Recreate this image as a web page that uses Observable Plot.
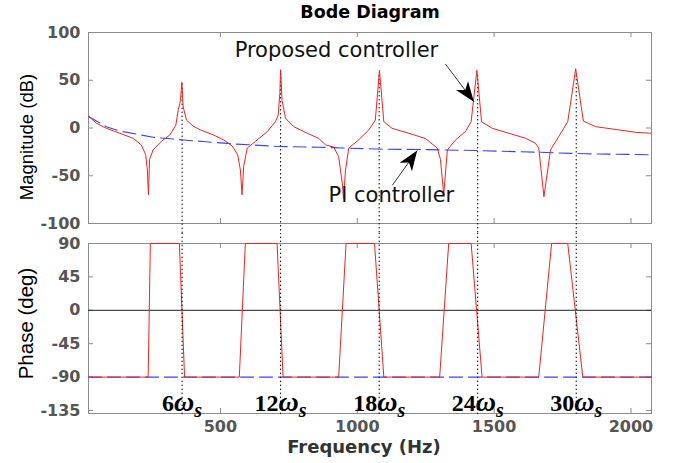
<!DOCTYPE html>
<html><head><meta charset="utf-8">
<script src="https://cdn.jsdelivr.net/npm/d3@7"></script>
<script src="https://cdn.jsdelivr.net/npm/@observablehq/plot@0.6"></script>
<style>
html,body{margin:0;padding:0;background:#fff;}
#chart{position:relative;width:674px;height:463px;overflow:hidden;background:#fff;}
#chart svg{position:absolute;left:0;display:block;}
</style></head><body><div id="chart"></div>
<script>
// ---- data ----
const freqDomain = [18, 2075];
const freqTicks = [500, 1000, 1500, 2000];
const magDomain = [-100, 100];
const magTicks = [-100, -50, 0, 50, 100];
const phaseDomain = [-139, 90];
const phaseTicks = [-135, -90, -45, 0, 45, 90];

// Proposed controller magnitude (dB)
const propMagFreq = [20, 47, 83, 132, 181, 211, 227, 233, 237, 241, 254, 284, 315, 337, 346, 354, 359, 364, 376, 400,
  427, 475, 512, 543, 563, 573, 579, 585, 598, 628, 671, 701, 711, 717, 720, 725, 738, 768, 817, 859,
  884, 914, 932, 945, 950, 957, 969, 1005, 1042, 1066, 1081, 1097, 1127, 1188, 1249,
  1292, 1304, 1316, 1329, 1359, 1395, 1416, 1426, 1437, 1454, 1493, 1554, 1615, 1651,
  1663, 1682, 1706, 1736, 1769, 1798, 1826, 1871, 1956, 2017, 2072];
const propMagDb = [12, 5, -0.3, -5.5, -10.8, -17.7, -28, -44, -70, -33, -23, -14, -7.3, 3, 19, 29, 48, 22, 8.3, 2,
  -2, -7.3, -12.5, -18.8, -28, -44, -70, -40, -21, -14, -3.8, 6.6, 13.5, 36, 61, 29, 10, 1.4, -5.5, -10.8,
  -17.7, -20, -30, -57.6, -74, -44, -21, -12.5, -2, 8.3, 60.4, 6.6, -0.3, -5.5, -11,
  -21, -33, -70, -23, -12.5, -3.8, 6.6, 32.6, 60.4, 6.6, -0.3, -5.5, -10.8, -16,
  -21, -72, -23, -9, 6.6, 62, 7.3, 1.4, -2, -4.5, -5.5];

// PI controller magnitude (dB)
const piMagFreq = [18, 83, 132, 254, 364, 437, 549, 719, 859, 1091, 1249, 1432, 1651, 1834, 2072];
const piMagDb = [12, 1.4, -3.1, -9.7, -12.5, -14.2, -16.7, -19.4, -20.1, -22.2, -22.6, -23.6, -25.3, -27, -28];

// Proposed controller phase (deg)
const propPhaseFreq = [18, 236, 244, 350, 369, 569, 591, 707, 729, 932, 959, 1063, 1097,
  1301, 1334, 1416, 1456, 1663, 1710, 1769, 1824, 2075];
const propPhaseDeg = [-90, -90, 90, 90, -90, -90, 90, 90, -90, -90, 90, 90, -90,
  -90, 90, 90, -90, -90, 90, 90, -90, -90];

// PI controller phase (deg)
const piPhaseFreq = [18, 2075];
const piPhaseDeg = [-90, -90];

// harmonic markers
const harmonicFreq = [360, 720, 1080, 1440, 1800];
const harmonicPeakDb = [46, 57, 55, 55, 55];
const harmonicLabels = ["6ωs", "12ωs", "18ωs", "24ωs", "30ωs"];

// annotations
const annText = ["Proposed controller", "PI controller"];
const annTextFreq = [552, 895];
const annTextDb = [74, -78];
const annFromFreq = [1322, 1128];
const annFromDb = [67, -60];
const annTipFreq = [1426, 1219];
const annTipDb = [27.5, -23.6];
const annHeadAngle = [143.6, 34.8];

// ---- records ----
const propMag = propMagFreq.map((f, i) => ({f, v: propMagDb[i]}));
const piMag = piMagFreq.map((f, i) => ({f, v: piMagDb[i]}));
const propPhase = propPhaseFreq.map((f, i) => ({f, v: propPhaseDeg[i]}));
const piPhase = piPhaseFreq.map((f, i) => ({f, v: piPhaseDeg[i]}));
const harmonics = harmonicFreq.map((f, i) => ({f, peak: harmonicPeakDb[i], label: harmonicLabels[i]}));
const anns = annText.map((t, i) => ({t, x: annTextFreq[i], y: annTextDb[i], x1: annFromFreq[i], y1: annFromDb[i],
  x2: annTipFreq[i], y2: annTipDb[i], a: annHeadAngle[i]}));

// filled barbed arrowhead (tip at origin, pointing up)
const arrowHead = {
  draw(ctx) {
    ctx.moveTo(0, 0);
    ctx.lineTo(-7.5, 20);
    ctx.lineTo(0, 14.5);
    ctx.lineTo(7.5, 20);
    ctx.closePath();
  }
};

const W = 674;
const GRAY = "#8c8c8c";
const RED = "#f22222";
const BLUE = "#3344ff";
const baseStyle = {fontFamily: "DejaVu Sans", fontSize: "16px", fontWeight: "bold", color: "#555", background: "transparent"};

// ---- top panel: magnitude ----
const topPlot = Plot.plot({
  width: W, height: 233,
  marginLeft: 88, marginRight: 23, marginTop: 32, marginBottom: 10,
  x: {domain: freqDomain, axis: null},
  y: {domain: magDomain, axis: null},
  style: baseStyle,
  marks: [
    Plot.frame({stroke: GRAY}),
    Plot.ruleX(freqTicks, {stroke: GRAY, insetBottom: 186}),
    Plot.ruleX(freqTicks, {stroke: GRAY, insetTop: 186}),
    Plot.ruleY(magTicks, {stroke: GRAY, insetRight: 558}),
    Plot.ruleY(magTicks, {stroke: GRAY, insetLeft: 558}),
    Plot.axisY(magTicks, {tickSize: 0, tickPadding: 8, label: null, tickFormat: d => String(d)}),
    Plot.ruleX(harmonics, {x: "f", y1: "peak", y2: -112, stroke: "#000", strokeDasharray: "1.5,2.5"}),
    Plot.line(piMag, {x: "f", y: "v", stroke: BLUE, strokeWidth: 1.1, strokeDasharray: "13,6"}),
    Plot.line(propMag, {x: "f", y: "v", stroke: RED, strokeWidth: 1}),
    Plot.link(anns, {x1: "x1", y1: "y1", x2: "x2", y2: "y2", stroke: "#333", strokeWidth: 1}),
    Plot.dot(anns, {x: "x2", y: "y2", symbol: arrowHead, r: 1, rotate: "a", fill: "#000", stroke: "none"}),
    Plot.text(anns, {x: "x", y: "y", text: "t", textAnchor: "start", lineAnchor: "bottom",
      fontFamily: "DejaVu Sans", fontWeight: "normal", fontSize: 21, fill: "#111"}),
    Plot.text(["Bode Diagram"], {text: d => d, frameAnchor: "top", dy: -15, lineAnchor: "bottom",
      fontSize: 17.5, fontWeight: "bold", fill: "#000"}),
    Plot.text(["Magnitude (dB)"], {text: d => d, frameAnchor: "left", rotate: -90, dx: -56, dy: 9,
      lineAnchor: "bottom", textAnchor: "middle", fontFamily: "Liberation Sans", fontWeight: "normal",
      fontSize: 18.5, fill: "#000"})
  ]
});

// ---- bottom panel: phase ----
const bottomPlot = Plot.plot({
  width: W, height: 230,
  marginLeft: 88, marginRight: 23, marginTop: 10, marginBottom: 50,
  x: {domain: freqDomain},
  y: {domain: phaseDomain, axis: null},
  style: baseStyle,
  marks: [
    Plot.frame({stroke: GRAY}),
    Plot.ruleX(freqTicks, {stroke: GRAY, insetBottom: 165}),
    Plot.ruleX(freqTicks, {stroke: GRAY, insetTop: 165}),
    Plot.ruleY(phaseTicks, {stroke: GRAY, insetRight: 558}),
    Plot.ruleY(phaseTicks, {stroke: GRAY, insetLeft: 558}),
    Plot.axisY(phaseTicks, {tickSize: 0, tickPadding: 8, label: null, tickFormat: d => String(d)}),
    Plot.axisX(freqTicks, {tickSize: 0, tickPadding: 7, label: null, tickFormat: d => String(d)}),
    Plot.ruleY([0], {stroke: "#222", strokeWidth: 1}),
    Plot.line(piPhase, {x: "f", y: "v", stroke: BLUE, strokeWidth: 1.1, strokeDasharray: "13,6"}),
    Plot.line(propPhase, {x: "f", y: "v", stroke: RED, strokeWidth: 1}),
    Plot.text(harmonics, {x: "f", y: -135, text: "label", textAnchor: "middle",
      lineAnchor: "bottom", fontFamily: "Liberation Serif", fontWeight: "bold", fontSize: 24, fill: "#000"}),
    Plot.ruleX(harmonics, {x: "f", y1: 104, y2: -142, stroke: "#000", strokeDasharray: "1.5,2.5"}),
    Plot.text(["Phase (deg)"], {text: d => d, frameAnchor: "left", rotate: -90, dx: -56, dy: -5,
      lineAnchor: "bottom", textAnchor: "middle", fontFamily: "Liberation Sans", fontWeight: "normal",
      fontSize: 20.5, fill: "#000"}),
    Plot.text(["Frequency (Hz)"], {text: d => d, frameAnchor: "bottom", dx: -6, dy: 39.5, lineAnchor: "bottom",
      fontSize: 18, fontWeight: "bold", fill: "#333"})
  ]
});

// style harmonic labels: upright number, italic omega, italic subscript s
const NS = "http://www.w3.org/2000/svg";
bottomPlot.querySelectorAll("text").forEach(t => {
  const m = t.textContent.match(/^(\d+)(ω)(s)$/);
  if (!m) return;
  t.textContent = "";
  const parts = [
    [m[1], "font-style:normal;font-size:24px"],
    [m[2], "font-style:italic;font-size:28px;font-family:'Liberation Serif','DejaVu Serif',serif"],
    [m[3], "font-style:italic;font-size:20px", "6"]
  ];
  for (const [txt, st, dy] of parts) {
    const s = document.createElementNS(NS, "tspan");
    s.setAttribute("style", st);
    if (dy) s.setAttribute("dy", dy);
    s.textContent = txt;
    t.appendChild(s);
  }
});

const chart = document.getElementById("chart");
topPlot.style.top = "0px";
bottomPlot.style.top = "233px";
chart.appendChild(topPlot);
chart.appendChild(bottomPlot);
</script>
</body></html>
